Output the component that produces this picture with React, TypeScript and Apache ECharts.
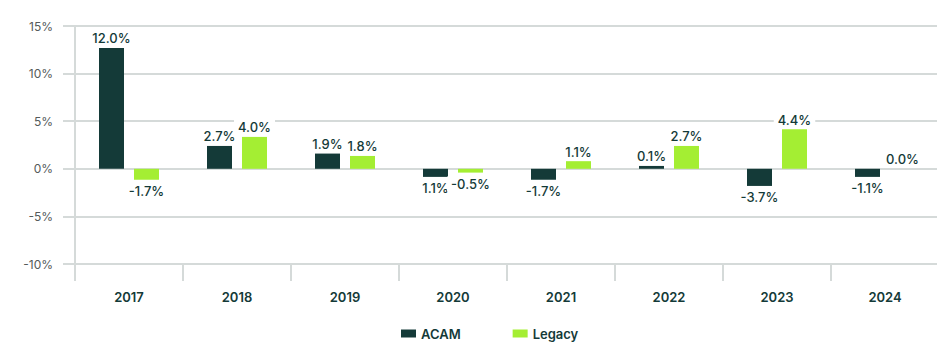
import React, { useEffect, useRef } from "react";
import * as echarts from "echarts";

const categories = ["2017", "2018", "2019", "2020", "2021", "2022", "2023", "2024"];
const acamValues = [12.7, 2.4, 1.6, -0.85, -1.15, 0.3, -1.8, -0.85];
const legacyValues = [-1.15, 3.35, 1.35, -0.4, 0.8, 2.4, 4.15, 0];
const acamLabels = ["12.0%", "2.7%", "1.9%", "1.1%", "-1.7%", "0.1%", "-3.7%", "-1.1%"];
const legacyLabels = ["-1.7%", "4.0%", "1.8%", "-0.5%", "1.1%", "2.7%", "4.4%", "0.0%"];
const yTicks = [-10, -5, 0, 5, 10, 15];

const DARK = "#143a38";
const GREEN = "#a4ee33";
const GRID = "#d5dad9";
const FONT = "Inter";

export default function App() {
  const ref = useRef<HTMLDivElement>(null);
  useEffect(() => {
    if (!ref.current) return;
    const chart = echarts.init(ref.current, null, { renderer: "svg" });
    const labelFor = (labels: string[]) => ({
      show: true,
      formatter: (p: any) => labels[p.dataIndex],
      color: DARK,
      fontFamily: FONT,
      fontSize: 13,
      fontWeight: 500,
      backgroundColor: "#ffffff",
      padding: [1, 4],
      distance: 2,
    });
    const mk = (vals: number[]) =>
      vals.map((v) => ({
        value: v,
        label: { position: v >= 0 ? "top" : "bottom", distance: v >= 0 ? 2 : 4 },
      }));
    chart.setOption({
      animation: false,
      textStyle: { fontFamily: FONT },
      grid: { left: 75, right: 6, top: 26, bottom: 88, containLabel: false },
      legend: {
        data: ["ACAM", "Legacy"],
        bottom: 7,
        left: 396,
        itemWidth: 15,
        itemHeight: 8,
        itemGap: 52,
        icon: "rect",
        textStyle: { color: DARK, fontSize: 13, fontWeight: 600, fontFamily: FONT },
      },
      xAxis: {
        type: "category",
        data: categories,
        axisLine: { show: true, onZero: false, lineStyle: { color: GRID, width: 2 } },
        axisTick: { show: true, length: 17, lineStyle: { color: GRID, width: 2 } },
        axisLabel: { color: DARK, fontSize: 13, fontWeight: 600, margin: 26, fontFamily: FONT },
      },
      yAxis: {
        type: "value",
        min: yTicks[0],
        max: yTicks[yTicks.length - 1],
        interval: 5,
        axisLine: { show: true, lineStyle: { color: GRID, width: 2 } },
        axisTick: { show: true, length: 12, lineStyle: { color: GRID, width: 2 } },
        splitLine: { show: true, lineStyle: { color: GRID, width: 2 } },
        axisLabel: {
          color: "#555a5a",
          fontSize: 12,
          margin: 22,
          fontFamily: FONT,
          formatter: (v: number) => `${v}%`,
        },
      },
      series: [
        {
          name: "ACAM",
          type: "bar",
          data: mk(acamValues),
          itemStyle: { color: DARK },
          barWidth: 25,
          barGap: "40%",
          label: labelFor(acamLabels),
          z: 3,
        },
        {
          name: "Legacy",
          type: "bar",
          data: mk(legacyValues),
          itemStyle: { color: GREEN },
          barWidth: 25,
          label: labelFor(legacyLabels),
          z: 3,
        },
      ],
    });
    return () => chart.dispose();
  }, []);
  return <div ref={ref} style={{ width: 945, height: 352, margin: -8 }} />;
}
